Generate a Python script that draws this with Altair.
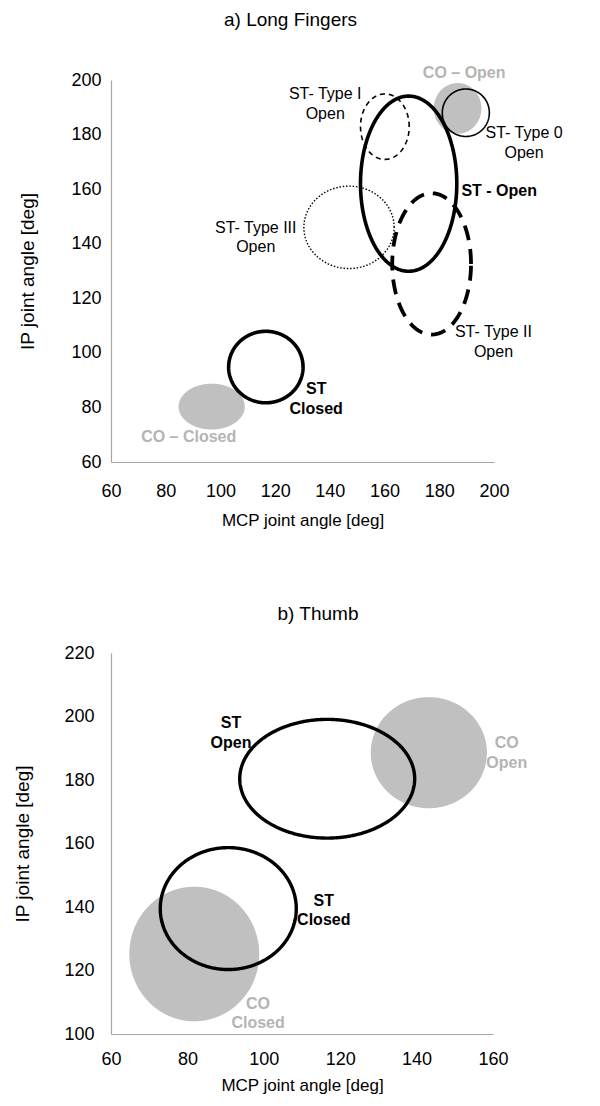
import numpy as np
import pandas as pd
import altair as alt

FONT = "Liberation Sans"

# ---------------- Panel a) Long Fingers ----------------
a_fill_names = ["CO – Closed", "CO – Open"]
a_fill_cx = [96.8, 186.7]
a_fill_cy = [80.3, 189.6]
a_fill_rx = [12.1, 8.7]
a_fill_ry = [8.4, 9.3]

a_line_names = ["ST Closed", "ST - Open", "ST- Type 0", "ST- Type I", "ST- Type II", "ST- Type III"]
a_line_cx = [116.6, 168.8, 189.7, 160.1, 177.2, 147.0]
a_line_cy = [94.8, 162.0, 188.0, 182.9, 132.6, 146.0]
a_line_rx = [13.6, 17.6, 8.6, 8.9, 14.4, 16.5]
a_line_ry = [13.1, 32.1, 8.7, 12.0, 25.9, 15.1]

a_lbl_norm = ["ST- Type  I", "Open", "ST- Type 0", "Open", "ST- Type III", "Open", "ST- Type II", "Open"]
a_lbl_norm_x = [138.3, 138.3, 211.0, 211.0, 112.9, 112.9, 199.8, 199.8]
a_lbl_norm_y = [194.7, 187.6, 180.6, 173.3, 145.8, 138.7, 107.5, 100.4]

a_lbl_bold = ["ST", "Closed"]
a_lbl_bold_x = [135.0, 135.0]
a_lbl_bold_y = [86.6, 79.5]

a_lbl_left = ["ST - Open"]
a_lbl_left_x = [188.1]
a_lbl_left_y = [159.4]

a_lbl_gray = ["CO – Open", "CO – Closed"]
a_lbl_gray_x = [189.1, 88.4]
a_lbl_gray_y = [202.5, 69.2]

a_xticks = [60, 80, 100, 120, 140, 160, 180, 200]
a_yticks = [60, 80, 100, 120, 140, 160, 180, 200]

# ---------------- Panel b) Thumb ----------------
b_fill_names = ["CO Closed", "CO Open"]
b_fill_cx = [81.8, 143.2]
b_fill_cy = [125.2, 188.6]
b_fill_rx = [17.0, 15.2]
b_fill_ry = [21.2, 17.5]

b_line_names = ["ST Closed", "ST Open"]
b_line_cx = [90.7, 116.6]
b_line_cy = [139.5, 180.4]
b_line_rx = [17.8, 22.9]
b_line_ry = [19.2, 18.7]

b_lbl_bold = ["ST", "Open", "ST", "Closed"]
b_lbl_bold_x = [91.4, 91.4, 115.7, 115.7]
b_lbl_bold_y = [198.0, 191.7, 141.9, 136.0]

b_lbl_gray = ["CO", "Open", "CO", "Closed"]
b_lbl_gray_x = [163.6, 163.6, 98.5, 98.5]
b_lbl_gray_y = [191.7, 185.4, 109.4, 103.4]

b_xticks = [60, 80, 100, 120, 140, 160]
b_yticks = [100, 120, 140, 160, 180, 200, 220]

# line styles (stroke width, dash) per outline
a_styles = {
    "ST Closed": (3.6, [1, 0]),
    "ST - Open": (3.6, [1, 0]),
    "ST- Type 0": (1.6, [1, 0]),
    "ST- Type I": (1.6, [5, 4]),
    "ST- Type II": (3.8, [15, 9]),
    "ST- Type III": (1.4, [1.5, 1.8]),
}
b_styles = {"ST Closed": (3.4, [1, 0]), "ST Open": (3.4, [1, 0])}

GRAY_FILL = "#c0c0c0"
GRAY_TEXT = "#b4b4b4"


def outline_table(names, cx, cy, rx, ry, n=240):
    rows = []
    t = np.linspace(0, 2 * np.pi, n + 1)
    for nm, x0, y0, a, b in zip(names, cx, cy, rx, ry):
        for i, tt in enumerate(t):
            rows.append({"name": nm, "i": i, "x": x0 + a * np.cos(tt), "y": y0 + b * np.sin(tt)})
    return pd.DataFrame(rows)


def fill_table(names, cx, cy, rx, ry, n=120):
    rows = []
    t = np.linspace(0, np.pi, n + 1)
    for nm, x0, y0, a, b in zip(names, cx, cy, rx, ry):
        for tt in t:
            rows.append({"name": nm, "x": x0 + a * np.cos(tt),
                         "y": y0 + b * np.sin(tt), "y2": y0 - b * np.sin(tt)})
    return pd.DataFrame(rows)


def label_table(texts, xs, ys):
    return pd.DataFrame({"t": texts, "x": xs, "y": ys})


def panel(title, title_offset, title_dx, xdom, ydom, xticks, yticks, fills, lines, styles,
          lbl_norm, lbl_bold, lbl_left, lbl_gray, w, h, xlabpad, xtitlepad, ylabpad, ytitlepad):
    xs = alt.Scale(domain=xdom, nice=False, zero=False)
    ys = alt.Scale(domain=ydom, nice=False, zero=False)
    xax = alt.Axis(values=xticks, title="MCP joint angle [deg]", ticks=False,
                   labelPadding=xlabpad, titlePadding=xtitlepad, format="d",
                   labelFlush=False, labelOverlap=False, titleFontSize=17)
    yax = alt.Axis(values=yticks, title="IP joint angle [deg]", ticks=False,
                   labelPadding=ylabpad, titlePadding=ytitlepad, format="d",
                   labelFlush=False, labelOverlap=False, titleFontSize=19)

    base_fill = alt.Chart(fills).mark_area(color=GRAY_FILL, opacity=1).encode(
        x=alt.X("x:Q", scale=xs, axis=xax),
        y=alt.Y("y:Q", scale=ys, axis=yax),
        y2="y2:Q",
        detail="name:N",
    )
    layers = [base_fill]
    for nm, (sw, dash) in styles.items():
        layers.append(
            alt.Chart(lines).transform_filter(alt.datum.name == nm).mark_line(
                color="black", strokeWidth=sw, strokeDash=dash, strokeJoin="round"
            ).encode(
                x=alt.X("x:Q", scale=xs),
                y=alt.Y("y:Q", scale=ys),
                order="i:Q",
            )
        )
    if lbl_norm is not None:
        layers.append(alt.Chart(lbl_norm).mark_text(
            font=FONT, fontSize=16, color="black", align="center", baseline="middle"
        ).encode(x=alt.X("x:Q", scale=xs), y=alt.Y("y:Q", scale=ys), text="t:N"))
    if lbl_bold is not None:
        layers.append(alt.Chart(lbl_bold).mark_text(
            font=FONT, fontSize=16, fontWeight="bold", color="black", align="center", baseline="middle"
        ).encode(x=alt.X("x:Q", scale=xs), y=alt.Y("y:Q", scale=ys), text="t:N"))
    if lbl_left is not None:
        layers.append(alt.Chart(lbl_left).mark_text(
            font=FONT, fontSize=16, fontWeight="bold", color="black", align="left", baseline="middle"
        ).encode(x=alt.X("x:Q", scale=xs), y=alt.Y("y:Q", scale=ys), text="t:N"))
    if lbl_gray is not None:
        layers.append(alt.Chart(lbl_gray).mark_text(
            font=FONT, fontSize=16, fontWeight="bold", color=GRAY_TEXT, align="center", baseline="middle"
        ).encode(x=alt.X("x:Q", scale=xs), y=alt.Y("y:Q", scale=ys), text="t:N"))

    return alt.layer(*layers).properties(
        width=w, height=h,
        title=alt.TitleParams(title, fontSize=19, font=FONT, fontWeight="normal",
                              color="black", anchor="middle", offset=title_offset, dx=title_dx),
    )


chart_a = panel(
    "a) Long Fingers", 35, -12, [60, 200], [60, 200], a_xticks, a_yticks,
    fill_table(a_fill_names, a_fill_cx, a_fill_cy, a_fill_rx, a_fill_ry),
    outline_table(a_line_names, a_line_cx, a_line_cy, a_line_rx, a_line_ry),
    a_styles,
    label_table(a_lbl_norm, a_lbl_norm_x, a_lbl_norm_y),
    label_table(a_lbl_bold, a_lbl_bold_x, a_lbl_bold_y),
    label_table(a_lbl_left, a_lbl_left_x, a_lbl_left_y),
    label_table(a_lbl_gray, a_lbl_gray_x, a_lbl_gray_y),
    383, 382, 20, 12, 10, 33,
)

chart_b = panel(
    "b) Thumb", 20, 16, [60, 160], [100, 220], b_xticks, b_yticks,
    fill_table(b_fill_names, b_fill_cx, b_fill_cy, b_fill_rx, b_fill_ry),
    outline_table(b_line_names, b_line_cx, b_line_cy, b_line_rx, b_line_ry),
    b_styles,
    None,
    label_table(b_lbl_bold, b_lbl_bold_x, b_lbl_bold_y),
    None,
    label_table(b_lbl_gray, b_lbl_gray_x, b_lbl_gray_y),
    382, 381, 16, 9, 17, 31,
)

chart = alt.vconcat(chart_a, chart_b, spacing=77).properties(
    padding={"left": 5, "top": 3, "right": 5, "bottom": 5}
).configure_view(stroke=None).configure_axis(
    grid=False, domainColor="#a6a6a6", domainWidth=1.2,
    labelFont=FONT, labelFontSize=18, labelColor="black",
    titleFont=FONT, titleFontWeight="normal", titleColor="black",
).configure_axisX(labelBaseline="top")

chart.save("out.html", embed_options={"renderer": "svg", "actions": False})
